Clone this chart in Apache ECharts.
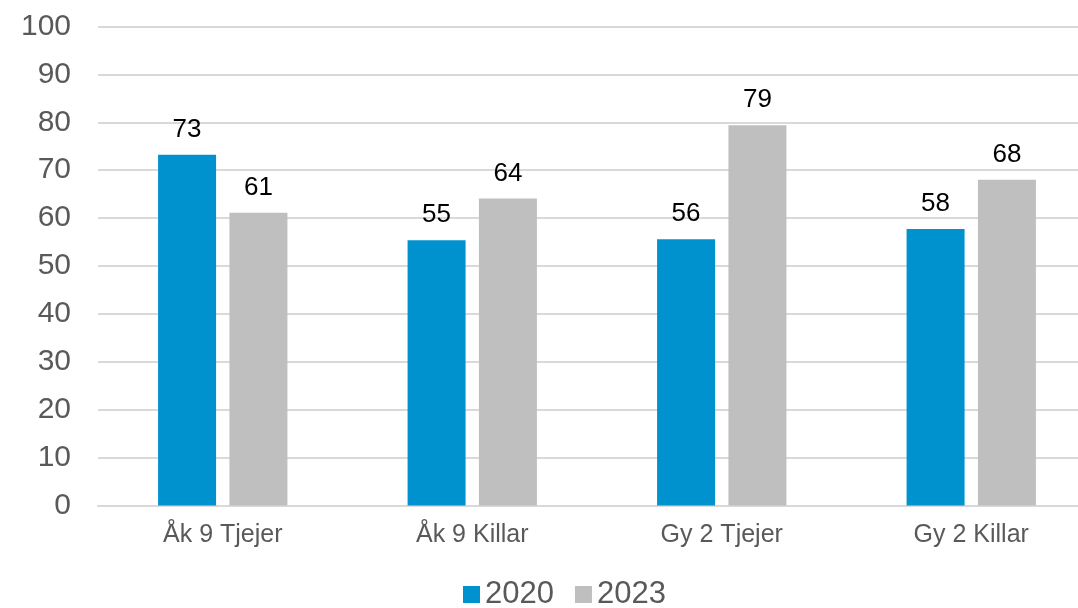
<!DOCTYPE html>
<html>
<head>
<meta charset="utf-8">
<script src="https://cdn.jsdelivr.net/npm/echarts@6/dist/echarts.min.js"></script>
<style>
  html, body { margin: 0; padding: 0; background: #fff; }
  #main { width: 1078px; height: 608px; }
</style>
</head>
<body>
<div id="main"></div>
<script>
var categories = ['Åk 9 Tjejer', 'Åk 9 Killar', 'Gy 2 Tjejer', 'Gy 2 Killar'];
var values2020 = [73.2, 55.4, 55.6, 57.7];
var values2023 = [61.1, 64.1, 79.4, 68.0];
var seriesNames = ['2020', '2023'];
var seriesColors = ['#0092CF', '#BFBFBF'];

var chart = echarts.init(document.getElementById('main'));

function barLabel() {
    return {
        show: true,
        position: 'top',
        distance: 12,
        color: '#000',
        fontSize: 26,
        fontFamily: 'Liberation Sans, Arial, sans-serif',
        formatter: function (p) { return Math.round(p.value); }
    };
}

var option = {
    animation: false,
    textStyle: { fontFamily: 'Liberation Sans, Arial, sans-serif' },
    // plot runs past the right edge, as in the original
    grid: { left: 98, width: 998, top: 26.5, bottom: 102.5, outerBoundsMode: 'none' },
    legend: {
        top: 579,
        left: 463,
        padding: 0,
        itemWidth: 17,
        itemHeight: 17,
        itemGap: 21,
        icon: 'rect',
        textStyle: { fontSize: 31, color: '#595959' },
        data: seriesNames
    },
    xAxis: {
        type: 'category',
        data: categories,
        axisLine: { lineStyle: { color: '#D9D9D9', width: 2 } },
        axisTick: { show: false },
        axisLabel: { color: '#595959', fontSize: 25, margin: 17 }
    },
    yAxis: {
        type: 'value',
        min: 0,
        max: 100,
        interval: 10,
        axisLine: { show: false },
        axisTick: { show: false },
        splitLine: { lineStyle: { color: '#D9D9D9', width: 2 } },
        axisLabel: { color: '#595959', fontSize: 30, margin: 27 }
    },
    series: [
        {
            name: seriesNames[0],
            type: 'bar',
            data: values2020,
            barWidth: 58,
            barGap: '23%',
            itemStyle: { color: seriesColors[0] },
            label: barLabel()
        },
        {
            name: seriesNames[1],
            type: 'bar',
            data: values2023,
            barWidth: 58,
            barGap: '23%',
            itemStyle: { color: seriesColors[1] },
            label: barLabel()
        }
    ]
};
chart.setOption(option);
</script>
</body>
</html>
